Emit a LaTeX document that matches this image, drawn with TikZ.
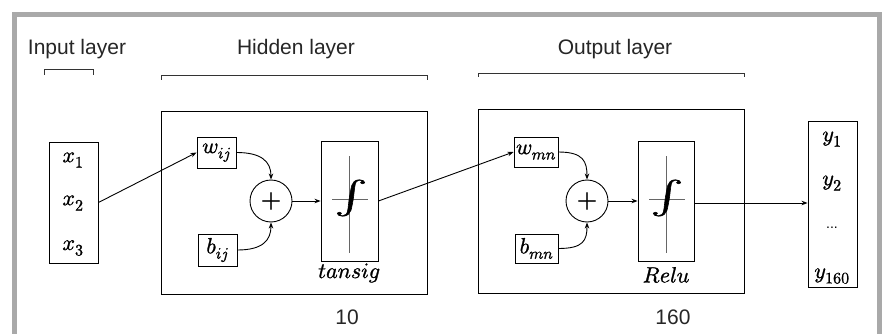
\documentclass[tikz,border=0pt]{standalone}
\usepackage{fontspec}
\usepackage{unicode-math}
\setmainfont{Liberation Sans}
\setmathfont{Latin Modern Math}[FakeBold=1.2]
\DeclareMathSizes{22}{22}{16}{12}
\usetikzlibrary{arrows.meta}
\definecolor{framegray}{RGB}{169,169,169}
\begin{document}
\begin{tikzpicture}[x=1pt,y=-1pt,
  lbl/.style={font=\fontsize{21}{25}\selectfont, text=black!85},
  mth/.style={font=\fontsize{22}{25}\selectfont, inner sep=0pt},
  bx/.style={draw, line width=0.9pt, inner sep=0pt},
  arr/.style={line width=0.9pt, -{Stealth[length=6pt,width=4.5pt]}},
  ln/.style={line width=0.9pt},
  brk/.style={line width=0.9pt, draw=black!80},
  gl/.style={draw=black!60, line width=0.9pt},
  integ/.style={font=\fontsize{33}{33}\selectfont, xscale=1.5, inner sep=0pt}]
\useasboundingbox (0,0) rectangle (882,334);
\fill[white] (0,0) rectangle (882,334);
% frame
\draw[line width=5pt, draw=framegray, line join=miter] (14.5,334) -- (14.5,14.8) -- (879.5,14.8) -- (879.5,334);

% titles
\node[lbl] (tin) at (77,49) {Input layer};
\node[lbl] (thid) at (296,49) {Hidden layer};
\node[lbl] (tout) at (615,49) {Output layer};
\draw[brk] (44,75) -- (44,69) -- (93,69) -- (93,75);
\draw[brk] (161,80) -- (161,75) -- (427,75) -- (427,80);
\draw[brk] (478,77) -- (478,73) -- (744,73) -- (744,77);

% input
\node[bx, minimum width=49, minimum height=121] (inbox) at (73.5,202.5) {};
\node[mth] (x1) at (73,160) {$x_1$};
\node[mth] (x2) at (73,203) {$x_2$};
\node[mth] (x3) at (73,248) {$x_3$};

% hidden layer
\node[bx, minimum width=266, minimum height=183] (hid) at (294,202.5) {};
\node[bx, mth, draw, minimum width=39, minimum height=31] (wij) at (216.5,152.5) {$w_{ij}$};
\node[bx, mth, draw, minimum width=39, minimum height=32] (bij) at (217.5,250) {$b_{ij}$};
\node[bx, circle, minimum size=42, font=\fontsize{26}{26}\selectfont] (sum1) at (271,201) {$+$};
\node[bx, minimum width=57, minimum height=120] (sig1) at (349.5,201) {};
\draw[gl] (349.5,156) -- (349.5,253);
\draw[gl] (332,199) -- (368,199);
\node[integ] (int1) at (351,198) {$\int$};
\node[mth] (tansig) at (349,273) {$tansig$};
\node[lbl] (n10) at (347,317) {10};

% output layer
\node[bx, minimum width=266, minimum height=184] (outl) at (611,201) {};
\node[bx, mth, draw, minimum width=44, minimum height=30] (wmn) at (536,152) {$w_{mn}$};
\node[bx, mth, draw, minimum width=43, minimum height=29] (bmn) at (536.5,248.5) {$b_{mn}$};
\node[bx, circle, minimum size=42, font=\fontsize{26}{26}\selectfont] (sum2) at (587,201) {$+$};
\node[bx, minimum width=56, minimum height=120] (sig2) at (666,201) {};
\draw[gl] (666,156) -- (666,253);
\draw[gl] (649,199) -- (685,199);
\node[integ] (int2) at (667,198) {$\int$};
\node[mth] (relu) at (666,275) {$Relu$};
\node[lbl] (n160) at (673,317) {160};

% outputs
\node[bx, minimum width=49, minimum height=166] (ybox) at (832.5,204) {};
\node[mth] (y1) at (832,139) {$y_1$};
\node[mth] (y2) at (832,183) {$y_2$};
\node[mth, font=\fontsize{14}{14}\selectfont] (ydots) at (832,228) {...};
\node[mth] (y160) at (832,276) {$y_{160}$};

% connectors
\draw[arr] (inbox.east) -- (wij.west);
\draw[arr] (wij.east) .. controls +(25,0) and +(0,-18) .. (sum1.north);
\draw[arr] (bij.east) .. controls +(25,0) and +(0,18) .. (sum1.south);
\draw[arr] (sum1.east) -- (sig1.west);
\draw[arr] (sig1.east) -- (wmn.west);
\draw[arr] (wmn.east) .. controls +(25,0) and +(0,-18) .. (sum2.north);
\draw[arr] (bmn.east) .. controls +(25,0) and +(0,18) .. (sum2.south);
\draw[arr] (sum2.east) -- (sig2.west);
\draw[arr] ([yshift=-2]sig2.east) -- ([yshift=-2]sig2.east -| ybox.west);
\end{tikzpicture}
\end{document}
